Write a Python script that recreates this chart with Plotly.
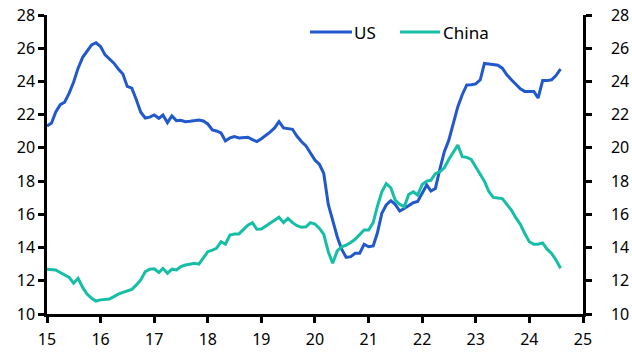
import pandas as pd
import plotly.graph_objects as go

months = pd.date_range("2015-01-01", periods=116, freq="MS")

us = [
    21.32, 21.5, 22.15, 22.6, 22.75, 23.3, 23.95, 24.8, 25.45, 25.85, 26.2, 26.33,
    26.1, 25.6, 25.35, 25.1, 24.75, 24.45, 23.7, 23.6, 22.9, 22.15, 21.8, 21.85,
    21.98, 21.78, 21.98, 21.52, 21.92, 21.64, 21.66, 21.58, 21.6, 21.62, 21.68, 21.62,
    21.44, 21.08, 21.02, 20.9, 20.42, 20.6, 20.68, 20.6, 20.62, 20.64, 20.5, 20.38,
    20.55, 20.75, 20.95, 21.2, 21.58, 21.2, 21.14, 21.12, 20.7, 20.38, 20.12, 19.7,
    19.27, 19.0, 18.47, 16.6, 15.6, 14.65, 13.9, 13.41, 13.45, 13.65, 13.65, 14.2,
    14.05, 14.1, 14.86, 16.06, 16.56, 16.82, 16.6, 16.2, 16.35, 16.55, 16.7, 16.78,
    17.3, 17.77, 17.4, 17.56, 18.7, 19.77, 20.45, 21.5, 22.48, 23.2, 23.79, 23.8,
    23.85, 24.1, 25.08, 25.05, 25.0, 24.98, 24.8, 24.4, 24.1, 23.8, 23.55, 23.4,
    23.4, 23.4, 23.0, 24.05, 24.05, 24.1, 24.35, 24.75,
]

china = [
    12.7, 12.68, 12.65, 12.5, 12.35, 12.2, 11.85, 12.15, 11.6, 11.2, 10.95, 10.78,
    10.85, 10.88, 10.9, 11.05, 11.2, 11.3, 11.4, 11.48, 11.75, 12.05, 12.55, 12.7,
    12.72, 12.5, 12.75, 12.45, 12.7, 12.65, 12.85, 12.95, 13.0, 13.05, 13.0, 13.35,
    13.75, 13.85, 13.95, 14.35, 14.2, 14.75, 14.82, 14.82, 15.1, 15.35, 15.5, 15.1,
    15.12, 15.3, 15.46, 15.65, 15.82, 15.5, 15.76, 15.5, 15.32, 15.22, 15.25, 15.5,
    15.42, 15.15, 14.8, 13.75, 13.05, 13.8, 14.05, 14.15, 14.3, 14.5, 14.8, 15.06,
    15.06, 15.5, 16.46, 17.36, 17.85, 17.6, 16.86, 16.6, 16.45, 17.2, 17.36, 17.16,
    17.8, 18.0, 18.05, 18.45, 18.57, 18.8, 19.3, 19.75, 20.17, 19.47, 19.43, 19.3,
    18.85, 18.45, 18.0, 17.36, 17.02, 16.98, 16.95, 16.6, 16.25, 15.8, 15.4, 14.85,
    14.35, 14.2, 14.2, 14.28, 13.9, 13.65, 13.25, 12.75,
]

series_names = ["US", "China"]
y_ticks = list(range(10, 29, 2))
x_tick_labels = ["15", "16", "17", "18", "19", "20", "21", "22", "23", "24", "25"]
x_tick_vals = pd.date_range("2015-01-01", periods=11, freq="YS")

US_COLOR = "#2158CC"
CHINA_COLOR = "#15BEA5"
FONT = "Noto Sans"

fig = go.Figure()
fig.add_trace(go.Scatter(x=months, y=us, name=series_names[0], mode="lines",
                         line=dict(color=US_COLOR, width=3), yaxis="y",
                         showlegend=False))
fig.add_trace(go.Scatter(x=months, y=china, name=series_names[1], mode="lines",
                         line=dict(color=CHINA_COLOR, width=3), yaxis="y2",
                         showlegend=False))

axis_common = dict(
    range=[10, 28], tickvals=y_ticks, ticks="outside", ticklen=6, tickwidth=2.5,
    tickcolor="black", showline=True, linecolor="black", linewidth=2.5,
    showgrid=False, zeroline=False, automargin=False,
    tickfont=dict(family=FONT, size=16, color="black"),
)

# legend keys drawn in paper coordinates (plot area 47..583 x, 15..314 y)
legend_items = [
    (series_names[0], US_COLOR, 0.4907, 0.569, 0.5705),
    (series_names[1], CHINA_COLOR, 0.6586, 0.7332, 0.7375),
]
legend_y = 0.943
shapes = []
annotations = []
for name, color, x0, x1, xt in legend_items:
    shapes.append(dict(type="line", xref="paper", yref="paper", x0=x0, x1=x1,
                       y0=legend_y, y1=legend_y, line=dict(color=color, width=3)))
    annotations.append(dict(text=name, xref="paper", yref="paper", x=xt, y=legend_y,
                            xanchor="left", yanchor="middle", showarrow=False,
                            borderpad=0,
                            font=dict(family=FONT, size=17, color="black")))

fig.update_layout(
    width=632, height=361,
    margin=dict(l=47, r=49, t=15, b=47, autoexpand=False),
    paper_bgcolor="white", plot_bgcolor="white",
    font=dict(family=FONT, size=16, color="black"),
    xaxis=dict(
        type="date", range=["2015-01-01", "2025-01-01"],
        tickvals=x_tick_vals, ticktext=x_tick_labels,
        ticks="outside", ticklen=6, tickwidth=2.5, tickcolor="black",
        showline=True, linecolor="black", linewidth=2.5, showgrid=False,
        zeroline=False, automargin=False, ticklabelstandoff=3,
        tickfont=dict(family=FONT, size=16, color="black"),
    ),
    yaxis=dict(side="left", **axis_common),
    yaxis2=dict(side="right", overlaying="y", matches="y", ticklabelstandoff=16,
                **axis_common),
    shapes=shapes,
    annotations=annotations,
    showlegend=False,
)

fig.write_html("out.html", config={"displayModeBar": False},
               post_script="document.body.style.margin='0px';")
